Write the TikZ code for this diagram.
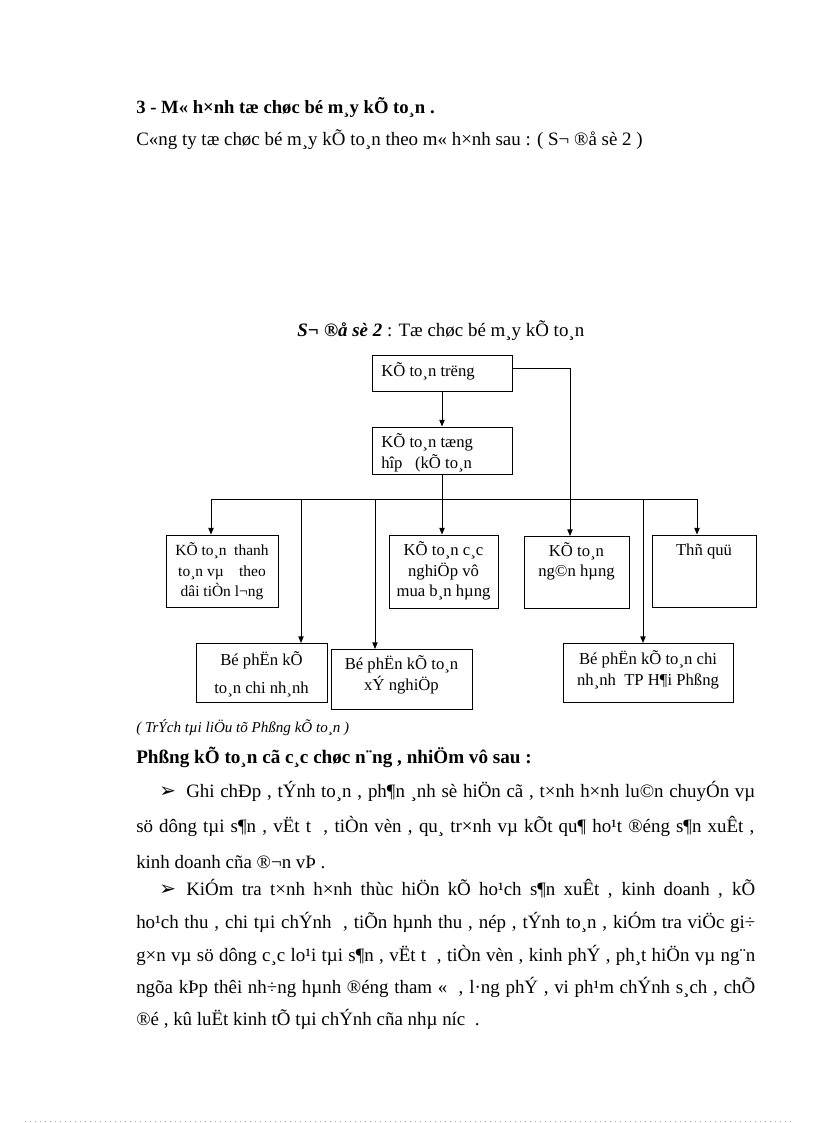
\documentclass[tikz,border=0pt]{standalone}
\usepackage{fontspec}
\setmainfont{Liberation Serif}
\newfontfamily\dejavu{DejaVu Sans}
\usetikzlibrary{arrows.meta}
\begin{document}
\begin{tikzpicture}[x=0.75pt,y=-0.75pt,
  box/.style n args={2}{draw, line width=0.7pt, minimum width=#1*0.75pt, minimum height=#2*0.75pt, inner sep=0pt},
  arr/.style={-{Triangle[length=5pt,width=4pt]}, line width=0.7pt},
  ln/.style={line width=0.7pt},
  txt/.style={inner sep=0pt, anchor=base west, font=\fontsize{14.2}{16}\selectfont},
  btxt/.style={inner sep=0pt, font=\fontsize{12.5}{15.4}\selectfont, align=center},
  ltxt/.style={inner sep=0pt, font=\fontsize{12.5}{15.4}\selectfont, align=left, anchor=west},
  bul/.style={inner sep=0pt, anchor=base west, font=\dejavu\fontsize{15}{16}\selectfont},
]
\useasboundingbox (0,0) rectangle (816,1123);
% headings
\node[txt, font=\bfseries\fontsize{14}{16}\selectfont] (title) at (136,114) {3 - M« h×nh tæ chøc bé m¸y kÕ to¸n .};
\node[txt] (intro) at (136,146) {C«ng ty tæ chøc bé m¸y kÕ to¸n theo m« h×nh sau : ( S¬ ®å sè 2 )};
\node[txt] (cap) at (297,336) {\textbf{\textit{S¬ ®å sè 2}} : Tæ chøc bé m¸y kÕ to¸n};
% boxes
\node[box={140}{36}] (b1) at (442,373) {};
\node[ltxt] (t1) at (381,371) {KÕ to¸n trëng};
\node[box={140}{47}] (b2) at (442,450.5) {};
\node[ltxt] (t2) at (381,453) {KÕ to¸n tæng\\hîp \ \ (kÕ to¸n};
\node[box={112}{72}] (b3) at (222,571) {};
\node[btxt, font=\fontsize{11.6}{15.4}\selectfont] (t3) at (222,571.5) {KÕ to¸n \ thanh\\to¸n vµ \ \ \ theo\\dâi tiÒn l¬ng};
\node[box={109}{73}] (b5) at (443.5,571.5) {};
\node[btxt] (t5) at (443.5,571) {KÕ to¸n c¸c\\nghiÖp vô\\mua b¸n hµng};
\node[box={105}{72}] (b4) at (576.5,572) {};
\node[btxt] (t4) at (576.5,561.5) {KÕ to¸n\\ng©n hµng};
\node[box={104}{72}] (b6) at (704,571) {};
\node[btxt] (t6) at (704,551) {Thñ quü};
\node[box={131}{59}] (b7) at (261.5,672.5) {};
\node[btxt, font=\fontsize{12.5}{21}\selectfont] (t7) at (261.5,674) {Bé phËn kÕ\\to¸n chi nh¸nh};
\node[box={141}{60}] (b8) at (401.5,679) {};
\node[btxt] (t8) at (401.5,675) {Bé phËn kÕ to¸n\\xÝ nghiÖp};
\node[box={170}{59}] (b9) at (648,672.5) {};
\node[btxt] (t9) at (648,670) {Bé phËn kÕ to¸n chi\\nh¸nh \ TP H¶i Phßng};
% connectors
\coordinate (bus) at (442,499);
\coordinate (busL) at (211,499);
\coordinate (busR) at (697,499);
\draw[arr] (b1) -- (b2);
\draw[arr] ([yshift=3.5pt]b1.east) -| (570,536);
\draw[ln] (b2) -- (bus);
\draw[ln] (busL) -- (busR);
\draw[arr] (busL) -- (busL |- b3.north);
\draw[arr] (bus) -- (bus |- b5.north);
\draw[arr] (busR) -- (busR |- b6.north);
\draw[arr] (301,499) -- (301,643);
\draw[arr] (375,499) -- (375,649);
\draw[arr] (643,499) -- (643,643);
% source and heading
\node[txt, font=\itshape\fontsize{11.3}{14}\selectfont] (src) at (136,732) {( TrÝch tµi liÖu tõ Phßng kÕ to¸n )};
\node[txt, font=\bfseries\fontsize{14.35}{16}\selectfont] (head) at (136,763) {Phßng kÕ to¸n cã c¸c chøc n¨ng , nhiÖm vô sau :};
% paragraph 1
\node[bul] (bu1) at (159,797) {➢};
\node[txt] (p1a) at (186,797) {\makebox[426.75pt][s]{Ghi chÐp , tÝnh to¸n , ph¶n ¸nh sè hiÖn cã , t×nh h×nh lu©n chuyÓn vµ}};
\node[txt] (p1b) at (136,832.5) {\makebox[463.5pt][s]{sö dông tµi s¶n , vËt t \ , tiÒn vèn , qu¸ tr×nh vµ kÕt qu¶ ho¹t ®éng s¶n xuÊt ,}};
\node[txt] (p1c) at (136,868) {kinh doanh cña ®¬n vÞ .};
% paragraph 2
\node[bul] (bu2) at (159,895) {➢};
\node[txt] (p2a) at (186,895) {\makebox[426.75pt][s]{KiÓm tra t×nh h×nh thùc hiÖn kÕ ho¹ch s¶n xuÊt , kinh doanh , kÕ}};
\node[txt] (p2b) at (136,928.5) {\makebox[464.25pt][s]{ho¹ch thu , chi tµi chÝnh \ , tiÕn hµnh thu , nép , tÝnh to¸n , kiÓm tra viÖc gi÷}};
\node[txt] (p2c) at (136,961) {\makebox[464.25pt][s]{g×n vµ sö dông c¸c lo¹i tµi s¶n , vËt t \ , tiÒn vèn , kinh phÝ , ph¸t hiÖn vµ ng¨n}};
\node[txt] (p2d) at (136,993) {\makebox[464.25pt][s]{ngõa kÞp thêi nh÷ng hµnh ®éng tham « \ , l·ng phÝ , vi ph¹m chÝnh s¸ch , chÕ}};
\node[txt] (p2e) at (136,1025) {®é , kû luËt kinh tÕ tµi chÝnh cña nhµ níc \ .};
% bottom dotted rule
\draw[black!35, line width=0.6pt, dash pattern=on 0.75pt off 3pt] (25,1121) -- (795,1121);
\end{tikzpicture}
\end{document}
